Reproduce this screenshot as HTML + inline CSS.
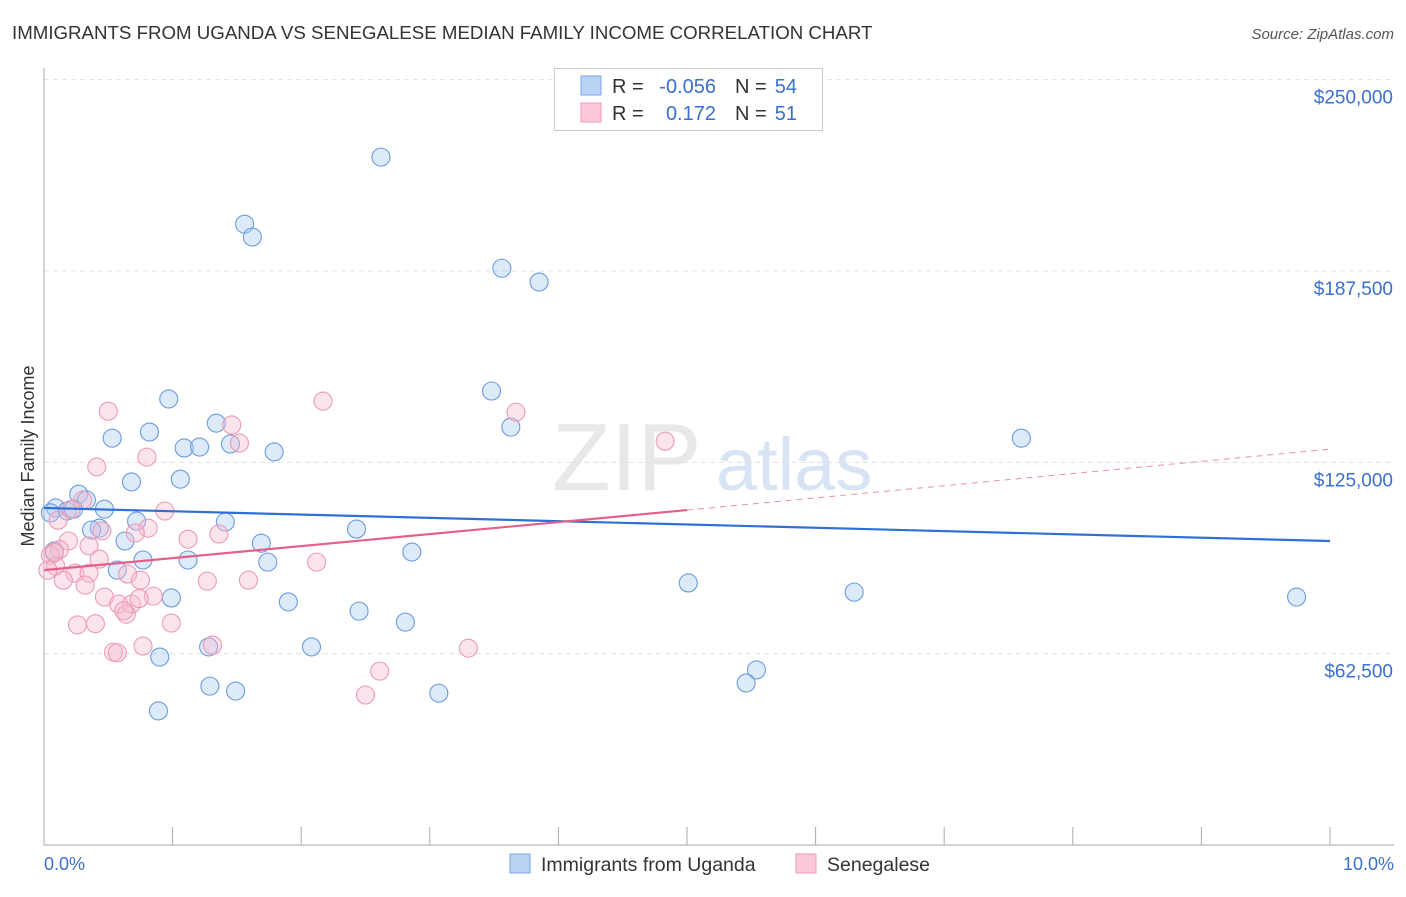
<!DOCTYPE html>
<html><head><meta charset="utf-8"><style>
body{margin:0;background:#fff;font-family:"Liberation Sans",sans-serif;}
svg text{font-family:"Liberation Sans",sans-serif;}
</style></head><body>
<svg id="chart" width="1406" height="892" xmlns="http://www.w3.org/2000/svg">
<text x="12" y="39" font-size="18.7" fill="#333">IMMIGRANTS FROM UGANDA VS SENEGALESE MEDIAN FAMILY INCOME CORRELATION CHART</text>
<text x="1394" y="39" font-size="15" fill="#555" font-style="italic" text-anchor="end">Source: ZipAtlas.com</text>
<text x="552" y="490" font-size="96" fill="#e8e8e8" font-family="Liberation Serif">ZIP</text>
<text x="716" y="490" font-size="74" fill="#d8e4f4">atlas</text>
<g id="grid"></g><g id="axes"></g><g id="pts"></g><g id="trend"></g>
<text x="34" y="456" font-size="18" fill="#333" text-anchor="middle" transform="rotate(-90 34 456)">Median Family Income</text>
<text x="44" y="870" font-size="18" fill="#3a6fd0">0.0%</text>
<text x="1394" y="870" font-size="18" fill="#3a6fd0" text-anchor="end">10.0%</text>
<g>
<rect x="554.5" y="68.5" width="268" height="62" fill="#fff" stroke="#ccc"/>
<rect x="581" y="76" width="20" height="19" fill="#b9d3f5" stroke="#7aa6e6"/>
<rect x="581" y="103" width="20" height="19" fill="#fbc9d9" stroke="#ee98b4"/>
<text x="612" y="93" font-size="20" fill="#333">R =</text>
<text x="716" y="93" font-size="20" fill="#3a6fd0" text-anchor="end">-0.056</text>
<text x="735" y="93" font-size="20" fill="#333">N =</text>
<text x="797" y="93" font-size="20" fill="#3a6fd0" text-anchor="end">54</text>
<text x="612" y="120" font-size="20" fill="#333">R =</text>
<text x="716" y="120" font-size="20" fill="#3a6fd0" text-anchor="end">0.172</text>
<text x="735" y="120" font-size="20" fill="#333">N =</text>
<text x="797" y="120" font-size="20" fill="#3a6fd0" text-anchor="end">51</text>
</g>
<g>
<rect x="510" y="854" width="20" height="19" fill="#b9d3f5" stroke="#7aa6e6"/>
<text x="541" y="871" font-size="19.5" fill="#333">Immigrants from Uganda</text>
<rect x="796" y="854" width="20" height="19" fill="#fbc9d9" stroke="#ee98b4"/>
<text x="827" y="871" font-size="19.5" fill="#333">Senegalese</text>
</g>
</svg>
<script>
const yTicks=[62500,125000,187500,250000];
const yTickLabels=["$62,500","$125,000","$187,500","$250,000"];
const xTicks=[0,1,2,3,4,5,6,7,8,9,10];
const ugandaX=[2.62,1.56,1.62,3.56,3.85,3.48,0.97,3.63,1.34,0.53,0.82,1.09,1.21,1.45,1.79,7.60,0.68,1.06,0.27,0.33,0.09,0.18,0.23,0.47,0.72,1.41,0.43,0.37,2.43,0.63,1.69,0.08,2.86,0.77,1.12,1.74,0.57,5.01,0.99,1.90,6.30,9.74,2.45,2.81,2.08,1.28,0.90,5.54,5.46,1.29,1.49,3.07,0.89,0.05];
const ugandaY=[224700,202800,198600,188400,183900,148300,145700,136500,137800,132900,134900,129700,130000,131000,128400,132900,118600,119500,114600,112700,110100,109100,109700,109700,105800,105500,103500,102900,103200,99300,98600,96000,95700,93100,93100,92400,89800,85600,80700,79400,82600,81000,76400,72800,64700,64700,61400,57200,52900,51900,50300,49600,43800,108500];
const senX=[0.50,3.67,2.17,1.46,1.52,4.83,0.80,0.41,0.94,0.30,0.11,0.21,0.45,0.81,0.71,1.36,1.12,0.19,0.35,0.12,0.05,0.43,0.09,2.12,0.03,0.24,0.35,0.15,0.65,0.75,1.27,1.59,0.32,0.47,0.85,0.58,0.68,0.74,0.64,0.99,0.26,0.40,1.31,0.77,0.54,0.57,3.30,2.61,2.50,0.08,0.62];
const senY=[141700,141400,145000,137200,131300,131900,126700,123500,109100,112700,106100,109600,102600,103500,101900,101600,99900,99300,97700,96500,94700,93400,91100,92400,89800,88800,88800,86500,88500,86500,86200,86500,84900,81000,81300,78700,78700,80500,75400,72500,71900,72300,65300,65000,63000,62800,64300,56800,49000,95500,76500];
const ugTrendY=[110100,99300];
const senTrendY=[89800,109400,129300];
const X0=44,X1=1330,Y0=845,PX=574/187500;
const xs=v=>X0+(X1-X0)*v/10, ys=v=>Y0-v*PX;
const NS="http://www.w3.org/2000/svg";
function mk(t,a,p){const e=document.createElementNS(NS,t);for(const k in a)e.setAttribute(k,a[k]);p.appendChild(e);return e;}
const grid=document.getElementById('grid'),axes=document.getElementById('axes'),pts=document.getElementById('pts'),tr=document.getElementById('trend');
yTicks.forEach((v,i)=>{
 const l=mk('line',{x1:X0,x2:1394,y1:ys(v),y2:ys(v),stroke:'#e0e0e0','stroke-dasharray':'5,4'},grid);
 
 
 const t=mk('text',{x:1393,y:ys(v)+24,'font-size':19,fill:'#3a6fd0','text-anchor':'end'},grid);
 t.textContent=yTickLabels[i];
 
 
});
const ax=mk('line',{x1:X0,x2:X0,y1:68,y2:Y0,stroke:'#aaa'},axes);


const bx=mk('line',{x1:X0,x2:1394,y1:Y0,y2:Y0,stroke:'#aaa'},axes);


xTicks.forEach(v=>{
 const t=mk('line',{x1:xs(v),x2:xs(v),y1:Y0,y2:Y0-18,stroke:'#aaa'},axes);
 
 
});
ugandaX.forEach((v,i)=>{
 const c=mk('circle',{cx:xs(v),cy:ys(ugandaY[i]),r:9,fill:'rgba(170,202,242,0.4)',stroke:'#6a9be0','stroke-width':1.1},pts);
 
 
});
senX.forEach((v,i)=>{
 const c=mk('circle',{cx:xs(v),cy:ys(senY[i]),r:9,fill:'rgba(248,188,208,0.4)',stroke:'#ec9ab5','stroke-width':1.1},pts);
 
 
});
const l1=mk('line',{x1:xs(0),x2:xs(10),y1:ys(ugTrendY[0]),y2:ys(ugTrendY[1]),stroke:'#2f6fd6','stroke-width':2.2},tr);


const l2=mk('line',{x1:xs(0),x2:xs(5),y1:ys(senTrendY[0]),y2:ys(senTrendY[1]),stroke:'#e4608a','stroke-width':2.2},tr);


const l3=mk('line',{x1:xs(5),x2:xs(10),y1:ys(senTrendY[1]),y2:ys(senTrendY[2]),stroke:'#e890ac','stroke-width':1,'stroke-dasharray':'6,5'},tr);


</script>
</body></html>
